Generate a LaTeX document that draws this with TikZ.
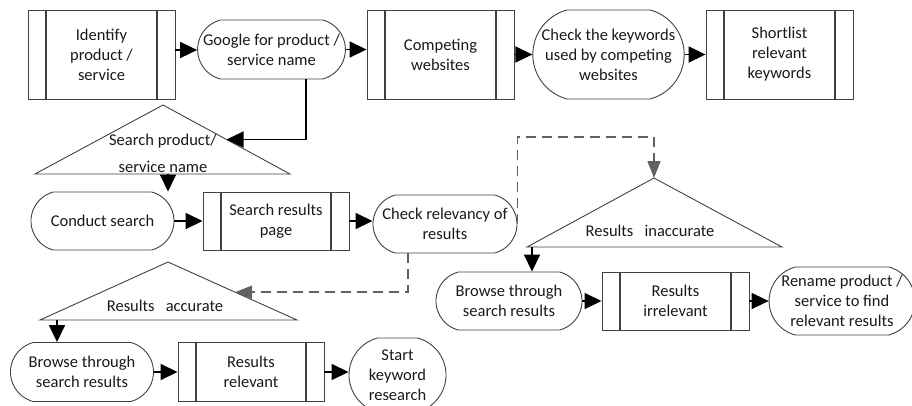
\documentclass[tikz,border=0pt]{standalone}
\usepackage{fontspec}
\setmainfont{Carlito}
\usetikzlibrary{shapes.misc,arrows.meta,calc}

\begin{document}
\begin{tikzpicture}[x=1pt,y=-1pt,
  every node/.style={align=center, inner sep=1pt, text=black!90,
    font=\fontsize{16.5pt}{20pt}\selectfont},
  proc/.style={draw=black!75, line width=.9pt, rectangle, minimum width=147pt, minimum height=89pt,
    path picture={\draw[black!75, line width=1.6pt]
      ([xshift=18pt]path picture bounding box.north west) -- ([xshift=18pt]path picture bounding box.south west)
      ([xshift=-18pt]path picture bounding box.north east) -- ([xshift=-18pt]path picture bounding box.south east);}},
  term/.style={draw=black!75, line width=.9pt, rounded rectangle, rounded rectangle arc length=150,
    minimum width=147pt, minimum height=59pt},
  tri/.style={draw=black!75, line width=.9pt},
  arr/.style={-{Triangle[length=17pt,width=16pt]}, line width=1.6pt},
  dasharr/.style={-{Triangle[length=17pt,width=13pt]}, dash pattern=on 10pt off 6pt, line width=1.6pt, black!62}
]
    \useasboundingbox (0,0) rectangle (912,405);

    % top row
    \node[proc] (id) at (101.5,54.5) {Identify\\product /\\service};
    \node[term] (google) at (271.5,49.5) {Google for product /\\service name};
    \node[proc] (comp) at (440.5,54.5) {Competing\\websites};
    \node[term, minimum height=89pt] (check) at (608.5,54.5) {Check the keywords\\used by competing\\websites};
    \node[proc] (short) at (779.5,54.5) {Shortlist\\relevant\\keywords};

    % search triangle
    \coordinate (t1a) at (163,105);
    \coordinate (t1l) at (35,174);
    \coordinate (t1r) at (290,174);
    \coordinate (t1b) at (168,174);
    \draw[tri] (t1a) -- (t1l) -- (t1r) -- cycle;
    \node (t1txt) at (163,153.5) {Search product/\\[7pt]service name};

    % middle row
    \node[term, minimum width=145pt, minimum height=58pt] (conduct) at (102.5,221) {Conduct search};
    \node[proc, minimum width=146pt, minimum height=58pt] (srp) at (276,221) {Search results\\page};
    \node[term, minimum width=146pt, minimum height=58pt] (rel) at (445,224) {Check relevancy of\\results};

    % inaccurate branch
    \coordinate (t2a) at (654,178);
    \coordinate (t2l) at (527,247);
    \coordinate (t2r) at (782,247);
    \coordinate (t2b) at (532,247);
    \draw[tri] (t2a) -- (t2l) -- (t2r) -- cycle;
    \node (t2txt) at (650,231) {Results\ \ \ inaccurate};
    \node[term, minimum width=148pt, minimum height=58pt] (br2) at (509,301) {Browse through\\search results};
    \node[proc, minimum height=58pt] (irr) at (675.5,301) {Results\\irrelevant};
    \node[term, minimum width=142pt, minimum height=68pt] (ren) at (842,301) {Rename product /\\service to find\\relevant results};

    % accurate branch
    \coordinate (t3a) at (168,262);
    \coordinate (t3l) at (40,320);
    \coordinate (t3r) at (297,320);
    \coordinate (t3b) at (57,320);
    \draw[tri] (t3a) -- (t3l) -- (t3r) -- cycle;
    \node (t3txt) at (165,306) {Results\ \ \ accurate};
    \node[term, minimum width=145pt] (br1) at (82,372) {Browse through\\search results};
    \node[proc, minimum width=146pt, minimum height=59pt] (relv) at (251,372) {Results\\relevant};
    \node[term, minimum width=99pt, minimum height=74pt] (start) at (397.5,375) {Start\\keyword\\research};

    \draw[arr] ([yshift=4.5pt]id.east) -- ([yshift=4.5pt]id.east -| google.west);
    \draw[arr] (google.east) -- (google.east -| comp.west);
    \draw[arr] (comp.east) -- (check.west);
    \draw[arr] (check.east) -- (short.west);
    \draw[arr, line width=1.2pt] ([xshift=34.5pt]google.south) |- ($(t1a)!.5!(t1r)$);
    \draw[arr] (t1b) -- (t1b |- conduct.north);
    \draw[arr] (conduct.east) -- (srp.west);
    \draw[arr] (srp.east) -- (srp.east -| rel.west);
    \draw[dasharr] ([xshift=-37pt]rel.south) |- ($(t3a)!.52!(t3r)$);
    \draw[dasharr] (rel.east) -- ++(0,-87) -| (t2a);
    \draw[arr] (t2b) -- (t2b |- br2.north);
    \draw[arr] (br2.east) -- (irr.west);
    \draw[arr] (irr.east) -- (ren.west);
    \draw[arr] (t3b) -- (t3b |- br1.north);
    \draw[arr] (br1.east) -- (relv.west);
    \draw[arr] (relv.east) -- (relv.east -| start.west);
\end{tikzpicture}
\end{document}
